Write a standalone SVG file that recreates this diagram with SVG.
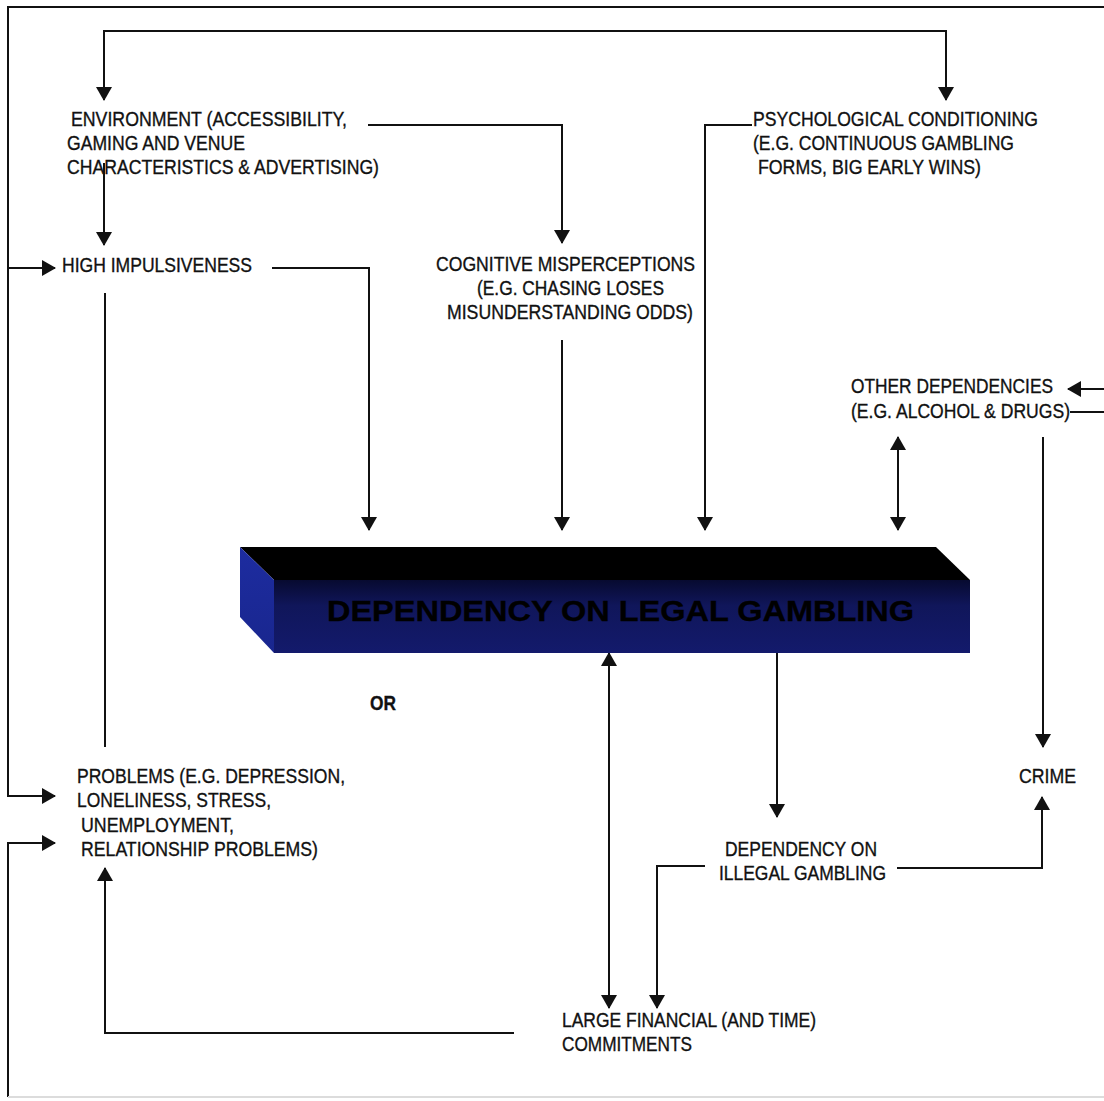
<svg xmlns="http://www.w3.org/2000/svg" width="1104" height="1101" viewBox="0 0 1104 1101">
<defs>
<marker id="ah" viewBox="0 0 14 16" refX="13" refY="8" markerWidth="14" markerHeight="16" markerUnits="userSpaceOnUse" orient="auto-start-reverse">
<path d="M0,0 L14,8 L0,16 z" fill="#111"/>
</marker>
<linearGradient id="front" x1="0" y1="0" x2="0" y2="1">
<stop offset="0" stop-color="#070a30"/>
<stop offset="0.35" stop-color="#10165a"/>
<stop offset="1" stop-color="#131a6c"/>
</linearGradient>
<linearGradient id="side" x1="0" y1="0" x2="0" y2="1">
<stop offset="0" stop-color="#1d2ca0"/>
<stop offset="1" stop-color="#19268e"/>
</linearGradient>
</defs>
<style>
.t{font-family:"Liberation Sans",Arial,sans-serif;font-size:20px;fill:#111;stroke:#111;stroke-width:0.35px;}
.b{font-weight:bold;}
.c{fill:none;stroke:#111;stroke-width:2;}
.a{marker-end:url(#ah);}
.aa{marker-start:url(#ah);marker-end:url(#ah);}
</style>
<rect width="1104" height="1101" fill="#fff"/>
<g id="connectors">
<path class="c a" d="M1104,7 H8 V796 H55"/>
<path class="c a" d="M8,268 H55"/>
<path class="c a" d="M8,1097 V843 H55"/>
<path d="M8,1097 H1104" fill="none" stroke="#dcdcdc" stroke-width="2"/>
<path class="c aa" d="M104,100 V31 H946 V100"/>
<path class="c a" d="M104,163 V245"/>
<path class="c a" d="M368,125 H562 V243"/>
<path class="c a" d="M272,268 H369 V530"/>
<path class="c" d="M105,293 V747"/>
<path class="c a" d="M562,340 V530"/>
<path class="c a" d="M752,125 H705 V530"/>
<path class="c aa" d="M898,437 V530"/>
<path class="c a" d="M1043,437 V747"/>
<path class="c a" d="M1104,389 H1068"/>
<path class="c" d="M1070,412 H1104"/>
<path class="c aa" d="M609,653 V1008"/>
<path class="c a" d="M777,653 V817"/>
<path class="c a" d="M705,866 H657 V1008"/>
<path class="c a" d="M897,868 H1042 V797"/>
<path class="c a" d="M514,1033 H105 V868"/>
</g>
<g id="environment">
<text class="t" x="71" y="126" textLength="276" lengthAdjust="spacingAndGlyphs">ENVIRONMENT (ACCESSIBILITY,</text>
<text class="t" x="67" y="150" textLength="178" lengthAdjust="spacingAndGlyphs">GAMING AND VENUE</text>
<text class="t" x="67" y="174" textLength="312" lengthAdjust="spacingAndGlyphs">CHARACTERISTICS &amp; ADVERTISING)</text>
</g>
<g id="psychological">
<text class="t" x="753" y="126" textLength="285" lengthAdjust="spacingAndGlyphs">PSYCHOLOGICAL CONDITIONING</text>
<text class="t" x="753" y="150" textLength="261" lengthAdjust="spacingAndGlyphs">(E.G. CONTINUOUS GAMBLING</text>
<text class="t" x="758" y="174" textLength="223" lengthAdjust="spacingAndGlyphs">FORMS, BIG EARLY WINS)</text>
</g>
<g id="impulsiveness">
<text class="t" x="62" y="272" textLength="190" lengthAdjust="spacingAndGlyphs">HIGH IMPULSIVENESS</text>
</g>
<g id="cognitive">
<text class="t" x="436" y="271" textLength="259" lengthAdjust="spacingAndGlyphs">COGNITIVE MISPERCEPTIONS</text>
<text class="t" x="477" y="295" textLength="187" lengthAdjust="spacingAndGlyphs">(E.G. CHASING LOSES</text>
<text class="t" x="447" y="319" textLength="246" lengthAdjust="spacingAndGlyphs">MISUNDERSTANDING ODDS)</text>
</g>
<g id="other">
<text class="t" x="851" y="393" textLength="202" lengthAdjust="spacingAndGlyphs">OTHER DEPENDENCIES</text>
<text class="t" x="851" y="418" textLength="219" lengthAdjust="spacingAndGlyphs">(E.G. ALCOHOL &amp; DRUGS)</text>
</g>
<g id="legal">
<polygon points="240,547 936,547 970,580 274,580" fill="#000"/>
<polygon points="240,547 274,580 274,653 240,617" fill="url(#side)"/>
<rect x="274" y="580" width="696" height="73" fill="url(#front)"/>
<text class="t b" x="327" y="621" style="font-size:29px;fill:#000;stroke:#000" textLength="587" lengthAdjust="spacingAndGlyphs">DEPENDENCY ON LEGAL GAMBLING</text>
</g>
<g id="or">
<text class="t b" x="370" y="710" textLength="26" lengthAdjust="spacingAndGlyphs">OR</text>
</g>
<g id="problems">
<text class="t" x="77" y="783" textLength="268" lengthAdjust="spacingAndGlyphs">PROBLEMS (E.G. DEPRESSION,</text>
<text class="t" x="77" y="807" textLength="194" lengthAdjust="spacingAndGlyphs">LONELINESS, STRESS,</text>
<text class="t" x="81" y="832" textLength="153" lengthAdjust="spacingAndGlyphs">UNEMPLOYMENT,</text>
<text class="t" x="81" y="856" textLength="237" lengthAdjust="spacingAndGlyphs">RELATIONSHIP PROBLEMS)</text>
</g>
<g id="crime">
<text class="t" x="1019" y="783" textLength="57" lengthAdjust="spacingAndGlyphs">CRIME</text>
</g>
<g id="illegal">
<text class="t" x="725" y="856" textLength="152" lengthAdjust="spacingAndGlyphs">DEPENDENCY ON</text>
<text class="t" x="719" y="880" textLength="167" lengthAdjust="spacingAndGlyphs">ILLEGAL GAMBLING</text>
</g>
<g id="commitments">
<text class="t" x="562" y="1027" textLength="254" lengthAdjust="spacingAndGlyphs">LARGE FINANCIAL (AND TIME)</text>
<text class="t" x="562" y="1051" textLength="130" lengthAdjust="spacingAndGlyphs">COMMITMENTS</text>
</g>
</svg>
